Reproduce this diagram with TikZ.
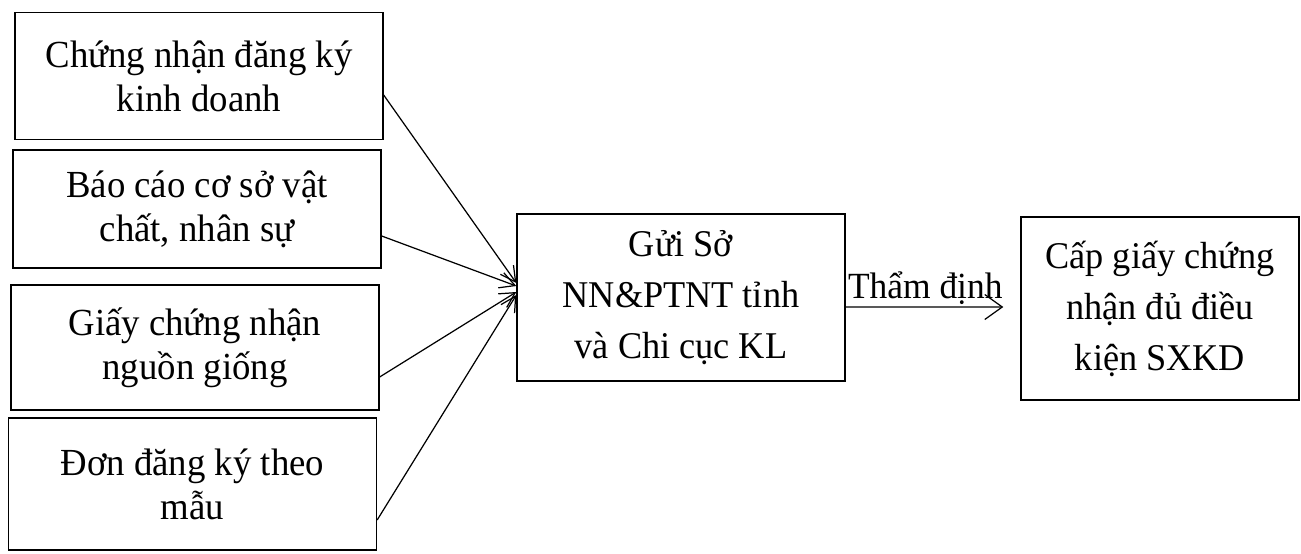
\documentclass[tikz,border=0pt]{standalone}
\usepackage{fontspec}
\setmainfont{Liberation Serif}[FakeStretch=0.96]
\usetikzlibrary{arrows.meta}

\begin{document}
\begin{tikzpicture}[
x=0.02cm, y=-0.02cm,
hoso/.style={rectangle, draw=black, line width=0.8pt, minimum width=7.36cm, align=center, font=\fontsize{21.8}{25}\selectfont},
xuly/.style={rectangle, draw=black, line width=0.8pt, align=center, font=\fontsize{21.5}{29}\selectfont},
nop/.style={-{Straight Barb[length=3mm, width=3.2mm]}, line width=0.7pt},
chuyen/.style={-{Straight Barb[length=3.5mm, width=5mm]}, line width=0.7pt},
]
\useasboundingbox (0,0) rectangle (1301,554);
\node[hoso, minimum height=2.54cm] (cndk) at (199,76) {Chứng nhận đăng ký\\kinh doanh};
\node[hoso, minimum height=2.36cm] (bccs) at (197,209) {Báo cáo cơ sở vật\\chất, nhân sự};
\node[hoso, minimum height=2.5cm] (gcng) at (195,347.5) {Giấy chứng nhận\\nguồn giống};
\node[hoso, minimum height=2.64cm] (dondk) at (192.5,484) {Đơn đăng ký theo\\mẫu};
\node[xuly, minimum width=6.56cm, minimum height=3.34cm] (guiso) at (681,297.5) {Gửi Sở\\NN\&PTNT tỉnh\\và Chi cục KL};
\node[xuly, minimum width=5.56cm, minimum height=3.66cm] (capgiay) at (1160,308.5) {Cấp giấy chứng\\nhận đủ điều\\kiện SXKD};

\draw[nop] ([yshift=-0.38cm]cndk.east) -- ([yshift=0.29cm]guiso.west);
\draw[nop] ([yshift=-0.54cm]bccs.east) -- ([yshift=0.23cm]guiso.west);
\draw[nop] ([yshift=-0.59cm]gcng.east) -- ([yshift=0.11cm]guiso.west);
\draw[nop] ([yshift=-0.72cm]dondk.east) -- ([yshift=0.05cm]guiso.west);
\draw[chuyen, shorten >=0.34cm] ([yshift=-0.19cm]guiso.east) -- ([yshift=0.03cm]capgiay.west)
    node[pos=0, anchor=south west, inner sep=1pt, font=\fontsize{21}{27}\selectfont] (thamdinh) {Thẩm định};
\end{tikzpicture}
\end{document}
